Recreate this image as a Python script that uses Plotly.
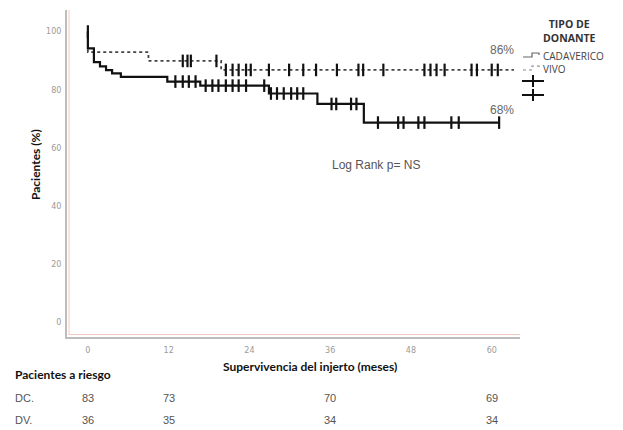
import plotly.graph_objects as go
import numpy as np

# ---- data ----
cad_t = [0, 0.001, 0.9, 1.8, 2.7, 3.6, 4.9, 11.8, 16.7, 26.9, 34.1, 41.0, 61.1]
cad_s = [100, 94.2, 89.5, 88.0, 86.7, 85.6, 84.4, 82.8, 81.4, 78.7, 75.1, 68.7, 68.7]
cad_cens = [0, 13.0, 14.1, 15.0, 16.0, 17.5, 18.5, 19.4, 20.5, 21.5, 22.4, 23.5, 26.2,
            27.2, 28.1, 29.1, 30.2, 31.1, 32.0, 36.2, 36.9, 39.1, 39.9,
            43.1, 46.1, 46.9, 49.1, 50.0, 54.0, 55.1, 61.1]

viv_t = [0, 0.001, 9.0, 19.8, 63.3]
viv_s = [100, 92.9, 89.9, 86.8, 86.8]
viv_cens = [14.1, 14.8, 15.3, 19.1, 20.5, 21.5, 22.4, 23.5, 24.2, 26.9, 29.9, 32.0, 33.9,
            37.0, 40.2, 40.9, 43.9, 50.0, 50.9, 51.8, 53.0, 57.0, 57.8, 60.0, 60.9]

end_labels = ["86%", "68%"]

risk_times = [0, 12, 36, 60]
risk_dc = [83, 73, 70, 69]
risk_dv = [36, 35, 34, 34]

x_ticks = [0, 12, 24, 36, 48, 60]
y_ticks = [0, 20, 40, 60, 80, 100]


def step_value(ts, ss, t):
    idx = np.searchsorted(ts, t, side="right") - 1
    return ss[max(idx, 0)]


fig = go.Figure()

fig.add_trace(go.Scatter(x=viv_t, y=viv_s, mode="lines", line_shape="hv",
                         line=dict(color="#444444", width=1.8, dash="dot"),
                         showlegend=False, hoverinfo="skip"))
fig.add_trace(go.Scatter(x=cad_t, y=cad_s, mode="lines", line_shape="hv",
                         line=dict(color="#111111", width=2.2),
                         showlegend=False, hoverinfo="skip"))
fig.add_trace(go.Scatter(x=viv_cens, y=[step_value(viv_t, viv_s, t) for t in viv_cens],
                         mode="markers",
                         marker=dict(symbol="line-ns-open", size=9, color="#111111",
                                     line=dict(color="#111111", width=2.2)),
                         showlegend=False, hoverinfo="skip"))
fig.add_trace(go.Scatter(x=cad_cens, y=[step_value(cad_t, cad_s, t) for t in cad_cens],
                         mode="markers",
                         marker=dict(symbol="line-ns-open", size=9, color="#111111",
                                     line=dict(color="#111111", width=2.2)),
                         showlegend=False, hoverinfo="skip"))

# ---- layout geometry (pixels of the 623x430 picture) ----
L, R, T, B = 67, 520, 10, 337
W, H = R - L, B - T


def px(x):
    return (x - L) / W


def py(y):
    return (B - y) / H


fig.update_layout(
    width=623, height=430,
    margin=dict(l=L, r=623 - R, t=T, b=430 - B),
    paper_bgcolor="white", plot_bgcolor="white",
    xaxis=dict(range=[-3.1, 64.2], tickvals=x_ticks, showgrid=False, zeroline=False,
               showline=True, linecolor="#bdbdbd", linewidth=2,
               ticks="outside", ticklen=4, tickcolor="rgba(0,0,0,0)",
               tickfont=dict(family="DejaVu Sans", size=8, color="#9a9a9a")),
    yaxis=dict(range=[-5.0, 107.4], tickvals=y_ticks, showgrid=False, zeroline=False,
               showline=True, linecolor="#bdbdbd", linewidth=2,
               ticks="outside", ticklen=2, tickcolor="rgba(0,0,0,0)",
               tickfont=dict(family="DejaVu Sans", size=8, color="#9a9a9a")),
)

shapes = []
# faint pinkish inner frame lines
shapes.append(dict(type="line", xref="paper", yref="paper", x0=px(69), x1=px(69),
                   y0=py(10), y1=py(335), line=dict(color="#f3c9bd", width=1)))
shapes.append(dict(type="line", xref="paper", yref="paper", x0=px(69), x1=px(520),
                   y0=py(334.5), y1=py(334.5), line=dict(color="#f3c9bd", width=1)))

# legend symbols
shapes.append(dict(type="path", xref="paper", yref="paper",
                   path=f"M {px(523)},{py(57)} L {px(532)},{py(57)} L {px(532)},{py(53)} L {px(539)},{py(53)} L {px(539)},{py(55)}",
                   line=dict(color="#666666", width=1.2)))
shapes.append(dict(type="path", xref="paper", yref="paper",
                   path=f"M {px(523)},{py(70)} L {px(532)},{py(70)} L {px(532)},{py(66)} L {px(539)},{py(66)} L {px(539)},{py(68)}",
                   line=dict(color="#888888", width=1.2, dash="dot")))
for yy in (81, 95):
    shapes.append(dict(type="line", xref="paper", yref="paper", x0=px(522), x1=px(544),
                       y0=py(yy), y1=py(yy), line=dict(color="#111111", width=2)))
    shapes.append(dict(type="line", xref="paper", yref="paper", x0=px(533), x1=px(533),
                       y0=py(yy - 6), y1=py(yy + 6), line=dict(color="#111111", width=2)))
fig.update_layout(shapes=shapes)

bold_font = dict(family="Lato", size=12, color="#111111")
ann = []
ann.append(dict(text="<b>Pacientes (%)</b>", xref="paper", yref="paper", x=px(35), y=py(165),
                textangle=-90, showarrow=False, font=bold_font, xanchor="center", yanchor="middle"))
ann.append(dict(text="<b>Supervivencia del injerto (meses)</b>", xref="paper", yref="paper",
                x=px(310), y=py(366), showarrow=False, font=bold_font,
                xanchor="center", yanchor="middle"))
ann.append(dict(text="<b>Pacientes a riesgo</b>", xref="paper", yref="paper",
                x=px(13), y=py(374), showarrow=False, font=bold_font,
                xanchor="left", yanchor="middle"))
num_font = dict(family="Liberation Sans", size=11, color="#555555")
ann.append(dict(text="DC.", xref="paper", yref="paper", x=px(13), y=py(398), showarrow=False,
                font=num_font, xanchor="left", yanchor="middle"))
ann.append(dict(text="DV.", xref="paper", yref="paper", x=px(13), y=py(420), showarrow=False,
                font=num_font, xanchor="left", yanchor="middle"))
for t, a, b in zip(risk_times, risk_dc, risk_dv):
    ann.append(dict(text=str(a), xref="x", yref="paper", x=t, y=py(398), showarrow=False,
                    font=num_font, xanchor="center", yanchor="middle"))
    ann.append(dict(text=str(b), xref="x", yref="paper", x=t, y=py(420), showarrow=False,
                    font=num_font, xanchor="center", yanchor="middle"))

ann.append(dict(text="Log Rank p= NS", xref="paper", yref="paper", x=px(376), y=py(165),
                showarrow=False, font=dict(family="Liberation Sans", size=12, color="#555555"),
                xanchor="center", yanchor="middle"))
ann.append(dict(text=end_labels[0], xref="x", yref="paper", x=61.5, y=py(50),
                showarrow=False, font=dict(family="Liberation Sans", size=12, color="#666666"),
                xanchor="center", yanchor="middle"))
ann.append(dict(text=end_labels[1], xref="x", yref="paper", x=61.5, y=py(110),
                showarrow=False, font=dict(family="Liberation Sans", size=12, color="#666666"),
                xanchor="center", yanchor="middle"))

leg_font = dict(family="Open Sans", size=10.5, color="#333333")
ann.append(dict(text="<b>TIPO DE<br>DONANTE</b>", xref="paper", yref="paper", x=px(569), y=py(31),
                showarrow=False, font=leg_font, xanchor="center", yanchor="middle"))
ann.append(dict(text="CADAVERICO", xref="paper", yref="paper", x=px(541), y=py(56),
                showarrow=False, font=dict(family="Open Sans", size=10, color="#444444"),
                xanchor="left", yanchor="middle"))
ann.append(dict(text="VIVO", xref="paper", yref="paper", x=px(541), y=py(69),
                showarrow=False, font=dict(family="Open Sans", size=10, color="#444444"),
                xanchor="left", yanchor="middle"))
fig.update_layout(annotations=ann)

fig.write_html("out.html", config={"displayModeBar": False},
               post_script="document.body.style.margin='0';")
